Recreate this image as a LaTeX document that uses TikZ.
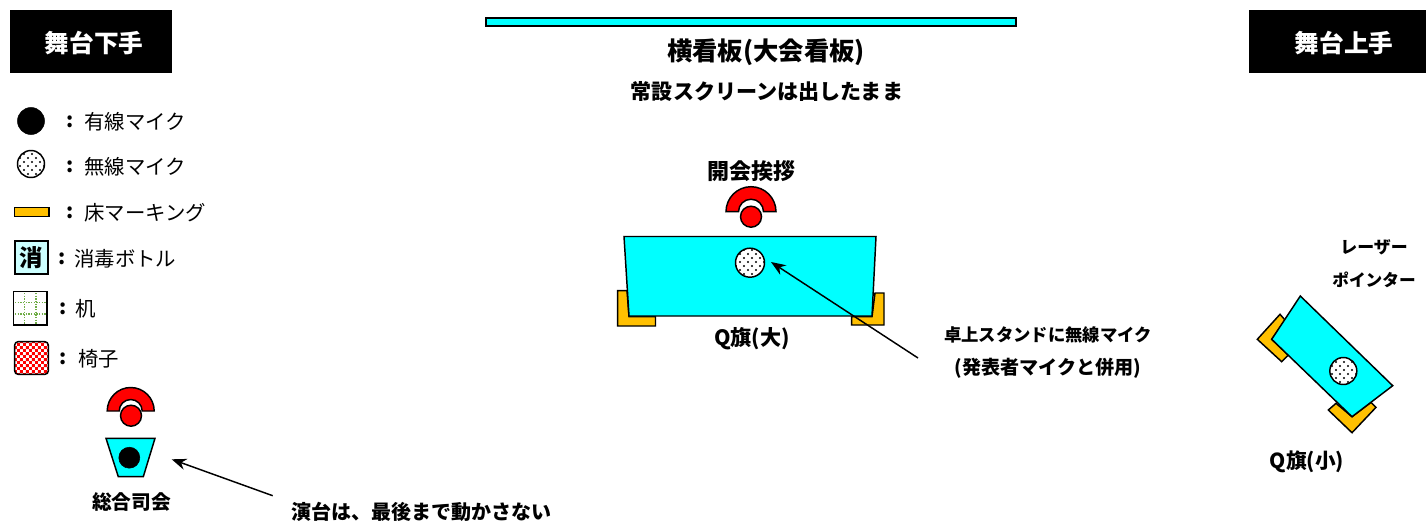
\documentclass[tikz,border=0pt]{standalone}
\usepackage{fontspec}
\setmainfont{Noto Sans CJK JP}
\usetikzlibrary{arrows.meta,patterns}
\definecolor{stagecyan}{RGB}{0,255,255}
\definecolor{markgold}{RGB}{255,192,0}
\definecolor{bottlecyan}{RGB}{204,255,255}
\definecolor{deskgreen}{RGB}{112,173,71}
\pgfdeclarepatternformonly{micdots}{\pgfqpoint{-1pt}{-1pt}}{\pgfqpoint{5pt}{5pt}}{\pgfqpoint{6pt}{6pt}}{
  \pgfpathcircle{\pgfqpoint{0pt}{0pt}}{0.8pt}
  \pgfpathcircle{\pgfqpoint{3pt}{3pt}}{0.8pt}
  \pgfusepath{fill}
}
\pgfdeclarepatternformonly{chairchecks}{\pgfqpoint{0pt}{0pt}}{\pgfqpoint{4.4pt}{4.4pt}}{\pgfqpoint{4.4pt}{4.4pt}}{
  \pgfpathrectangle{\pgfqpoint{0pt}{0pt}}{\pgfqpoint{2.2pt}{2.2pt}}
  \pgfpathrectangle{\pgfqpoint{2.2pt}{2.2pt}}{\pgfqpoint{2.2pt}{2.2pt}}
  \pgfusepath{fill}
}
\newcommand{\jpsize}[1]{\fontsize{#1}{#1}\selectfont}
\newcommand{\speakermark}[4]{%
  \draw[outl,fill=red] (#1,#2) ++(-#3,0) arc (180:360:#3) -- ++(#4-#3,0) arc (360:180:#4) -- cycle;
}
\tikzset{
  outl/.style={draw=black,line width=1.1pt,line join=miter},
  label/.style={font=\bfseries\jpsize{#1},text=black,inner sep=0pt},
  legend/.style={font=\jpsize{15.3},text=black,inner sep=0pt,anchor=west},
  wiredmic/.style={circle,fill=black,draw=black,inner sep=0pt,minimum size=#1*0.75pt},
  wirelessmic/.style={circle,outl,preaction={fill=white},pattern=micdots,inner sep=0pt,minimum size=#1*0.75pt},
  head/.style={circle,outl,fill=red,inner sep=0pt,minimum size=#1*0.75pt},
  callout/.style={-{Stealth[length=11pt,width=8.5pt]},line width=1.1pt}
}
\begin{document}
\begin{tikzpicture}[x=0.75pt,y=-0.75pt]
  \useasboundingbox (0,0) rectangle (1426,522);

  \fill[black] (10,10) rectangle (172,73);
  \fill[black] (1249,10) rectangle (1426,73);
  \node[label=18.5,text=white] (shimote) at (94,43.5) {舞台下手};
  \node[label=18.5,text=white] (kamite) at (1344,43.5) {舞台上手};

  \draw[outl,fill=stagecyan] (486,18) rectangle (1016,26);
  \node[label=19] (banner) at (766,52) {横看板(大会看板)};
  \node[label=15.8] (screen) at (767,91) {常設スクリーンは出したまま};

  \node[wiredmic=27] (leg-wired) at (31,121) {};
  \node[wirelessmic=27] (leg-wireless) at (31,164) {};
  \draw[outl,fill=markgold] (14.7,207.3) rectangle (49,216.7);
  \node[outl,fill=bottlecyan,minimum size=25pt,inner sep=0pt,font=\bfseries\jpsize{17.5}] (leg-bottle) at (31.5,257.5) {消};
  \draw[outl] (13.3,291.7) rectangle (47,325);
  \foreach \t in {0.33,0.67} {
    \draw[deskgreen,densely dotted,line width=1pt] (13.3+33.7*\t,293) -- (13.3+33.7*\t,324);
    \draw[deskgreen,densely dotted,line width=1pt] (15,291.7+33.3*\t) -- (46,291.7+33.3*\t);
  }
  \draw[outl,rounded corners=2.5pt,preaction={fill=white},pattern=chairchecks,pattern color=red] (14.7,341.7) rectangle (48.3,374.3);

  \foreach \id/\cx/\tx/\y/\txt in {wired/66/84/122/有線マイク, wireless/66/84/167/無線マイク, floor/66/84/213/床マーキング, bottle/58/74/259/消毒ボトル, desk/59/75/309/机, chair/59.5/78/359/椅子} {
    \node[legend,font=\bfseries\jpsize{15.3}] (colon-\id) at (\cx,\y) {:};
    \node[legend] (text-\id) at (\tx,\y) {\txt};
  }

  \node[label=16.5] (opening) at (751,171) {開会挨拶};
  \speakermark{751}{211.7}{25}{12.5}
  \node[head=21] (head-main) at (751,216.7) {};
  \draw[outl,fill=markgold] (617.7,290.7) -- (617.7,326) -- (655.5,326) -- (655.5,316.7) -- (629,316.7) -- (627,290.7) -- cycle;
  \draw[outl,fill=markgold] (884,293) -- (884,325) -- (851.7,325) -- (851.7,316.7) -- (872,316.7) -- (875,293) -- cycle;
  \draw[outl,fill=stagecyan] (624,236.5) -- (876,236.5) -- (872,316) -- (629,316) -- cycle;
  \node[wirelessmic=29] (mic-main) at (750,262.7) {};
  \node[label=15.8] (flag-large) at (752,339) {Q旗(大)};

  \node[label=13] (note-stand) at (1048,335) {卓上スタンドに無線マイク};
  \node[label=14.3] (note-shared) at (1048,368) {(発表者マイクと併用)};
  \coordinate (tail-main) at (918,358);
  \coordinate (tip-main) at (771,262);
  \draw[callout] (tail-main) -- (tip-main);

  \speakermark{130.7}{411}{23.5}{11.5}
  \node[head=21] (head-mc) at (131,415.7) {};
  \draw[outl,fill=stagecyan] (106,438.3) -- (155,438.3) -- (143.3,476.7) -- (118.3,476.7) -- cycle;
  \node[wiredmic=21] (mic-mc) at (129.3,457.7) {};
  \node[label=14.8] (mc) at (131.7,502) {総合司会};
  \node[label=15] (note-lectern) at (421,512) {演台は、最後まで動かさない};
  \coordinate (tail-mc) at (272.7,495.7);
  \coordinate (tip-mc) at (171.7,459.3);
  \draw[callout] (tail-mc) -- (tip-mc);

  \node[label=12.7] (laser) at (1374,247) {レーザー};
  \node[label=12.5] (pointer) at (1374,280) {ポインター};
  \draw[outl,fill=markgold] (1280,314.3) -- (1257.3,339.3) -- (1281.7,361.7) -- (1288.3,355) -- (1271.7,339.3) -- (1285,320) -- cycle;
  \draw[outl,fill=markgold] (1336,403.3) -- (1328.3,410) -- (1352,432.7) -- (1376,407.3) -- (1371,402.3) -- (1352,416.7) -- cycle;
  \draw[outl,fill=stagecyan] (1300.3,296) -- (1392.7,385.7) -- (1352,416.7) -- (1271.7,339.3) -- cycle;
  \node[wirelessmic=27] (mic-side) at (1343.3,371) {};
  \node[label=15.5] (flag-small) at (1307,462) {Q旗(小)};
\end{tikzpicture}
\end{document}
